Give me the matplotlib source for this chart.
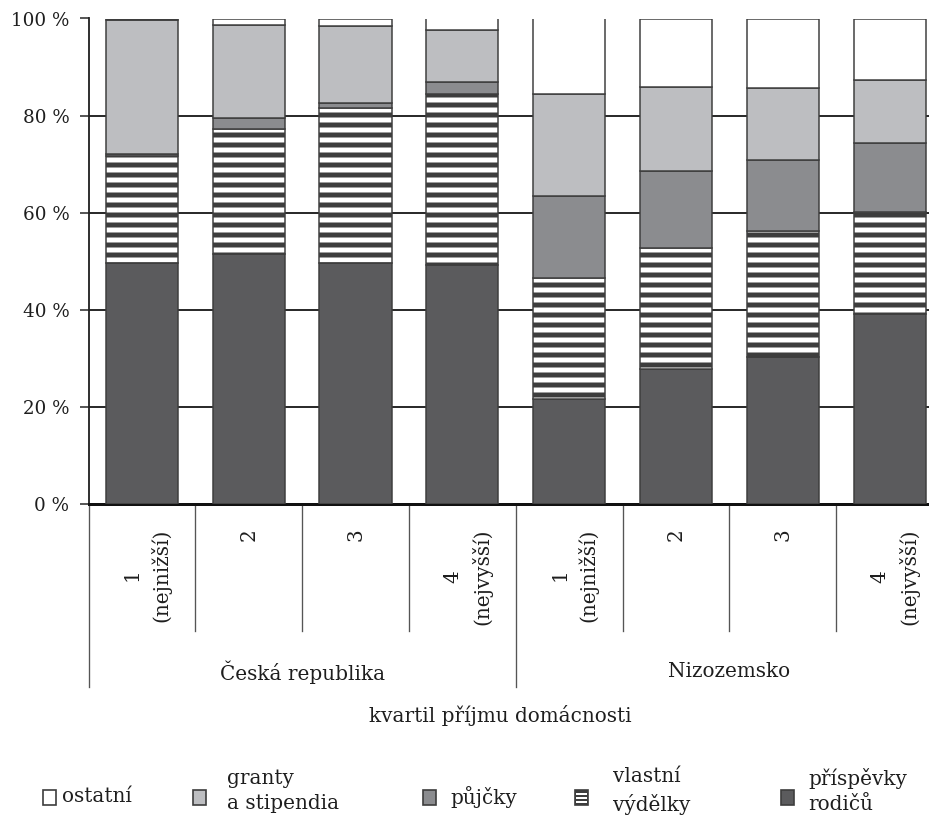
import matplotlib
matplotlib.use("Agg")
import matplotlib.pyplot as plt
import numpy as np
from matplotlib.patches import Rectangle

# shares (%) per column, stacked bottom -> top
groups = ["Česká republika", "Nizozemsko"]
quartiles = ["1\n(nejnižší)", "2", "3", "4\n(nejvyšší)"]
parents = [49.6, 51.5, 49.6, 49.2, 21.7, 27.8, 30.2, 39.1]
earnings = [22.0, 25.8, 32.0, 35.3, 24.8, 25.0, 26.1, 21.1]
loans = [0.4, 2.2, 1.0, 2.5, 16.9, 15.7, 14.6, 14.1]
grants = [27.7, 19.2, 15.8, 10.7, 21.0, 17.3, 14.7, 13.1]
other = [0.3, 1.3, 1.6, 2.3, 15.6, 14.2, 14.4, 12.6]
yticks = [0, 20, 40, 60, 80, 100]

series = [
    ("příspěvky\nrodičů", parents, "#5b5b5d", None),
    ("vlastní\nvýdělky", earnings, "white", "--"),
    ("půjčky", loans, "#8b8c8f", None),
    ("granty\na stipendia", grants, "#bdbec1", None),
    ("ostatní", other, "white", None),
]

DPI = 120
W, H = 929, 817
plt.rcParams["font.family"] = ["DejaVu Serif"]
plt.rcParams["hatch.linewidth"] = 3.0
edge = "#3d3d3d"
txt = "#1e1e1e"

fig = plt.figure(figsize=(W / DPI, H / DPI), dpi=DPI)
ax = fig.add_axes([88.5 / W, 313 / H, (943 - 88.5) / W, 485.5 / H])

x = np.arange(len(parents))
bottom = np.zeros(len(x))
for name, vals, col, hatch in series:
    ax.bar(x, vals, width=0.675, bottom=bottom, color=col, edgecolor=edge,
           linewidth=0.9, hatch=hatch, zorder=3)
    bottom += np.array(vals)

ax.set_xlim(-0.5, len(x) - 0.5)
ax.set_ylim(0, 100)
ax.set_yticks(yticks)
ax.set_yticklabels([f"{v} %" for v in yticks], fontsize=11, color=txt)
ax.tick_params(axis="y", length=5.4, width=0.9, pad=6, color="#222222")
ax.set_xticks([])
ax.yaxis.grid(True, color="#1a1a1a", linewidth=1.1)
ax.set_axisbelow(True)
for s in ["top", "right"]:
    ax.spines[s].set_visible(False)
ax.spines["left"].set_linewidth(1.1)
ax.spines["left"].set_color("#222222")
ax.spines["bottom"].set_linewidth(1.8)
ax.spines["bottom"].set_color("#111111")

# category axis below the plot
tr = ax.get_xaxis_transform()
n_per = len(quartiles)
for k in range(len(x) + 1):
    depth = -0.377 if k % n_per == 0 else -0.2616
    ax.plot([k - 0.5, k - 0.5], [0, depth], transform=tr, color="#555555",
            linewidth=0.8, clip_on=False)
for i in range(len(x)):
    lab = quartiles[i % n_per]
    xo = 0.05 if "\n" in lab else 0.0
    ax.text(i + xo, -0.05, lab, transform=tr, rotation=90,
            ha="center", va="top", multialignment="center", linespacing=1.5,
            fontsize=12, color=txt)
for g, name in enumerate(groups):
    ax.text(g * n_per + (n_per - 1) / 2, -0.346, name, transform=tr,
            ha="center", va="center", fontsize=12, color=txt)

fig.text(500 / W, 1 - 715 / H, "kvartil příjmu domácnosti", ha="center",
         va="center", fontsize=12, color=txt)

# legend drawn in pixel coordinates
lax = fig.add_axes([0, 0, 1, 1])
lax.set_xlim(0, W)
lax.set_ylim(H, 0)
lax.axis("off")
legend_order = [4, 3, 2, 1, 0]
swatch_x = [43, 193, 423, 575, 781]
label_x = [62, 227, 450, 613, 808]
for sx, lx, idx in zip(swatch_x, label_x, legend_order):
    name, _, col, hatch = series[idx]
    if hatch:
        lax.add_patch(Rectangle((sx, 790), 13, 15, facecolor=edge,
                                edgecolor=edge, linewidth=1.0))
        for yy in (793.5, 797.5, 801.5):
            lax.plot([sx + 1, sx + 12], [yy, yy], color="white", linewidth=1.2,
                     solid_capstyle="butt")
    else:
        lax.add_patch(Rectangle((sx, 790), 13, 15, facecolor=col,
                                edgecolor=edge, linewidth=1.0))
    yc = 797 if "\n" not in name else 791
    lax.text(lx, yc, name, ha="left", va="center", fontsize=12,
             linespacing=1.45, color=txt)

fig.savefig("out.png", dpi=DPI)
